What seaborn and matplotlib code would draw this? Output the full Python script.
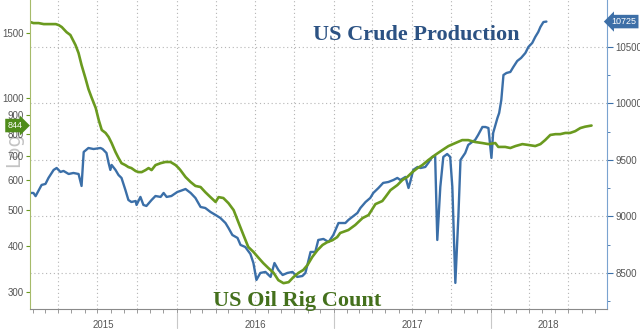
import matplotlib
matplotlib.use("Agg")
import matplotlib.pyplot as plt
import matplotlib.ticker as mticker
import matplotlib.dates as mdates
import matplotlib.transforms as mtrans
import seaborn as sns
import pandas as pd

# ---------------- data ----------------
prod_dates = ["2015-01-26","2015-02-02","2015-02-07","2015-02-21","2015-03-02","2015-03-09","2015-03-21","2015-03-28","2015-04-06","2015-04-13",
              "2015-04-25","2015-05-06","2015-05-18","2015-05-25","2015-05-30","2015-06-10","2015-06-22","2015-07-08","2015-07-13","2015-07-22",
              "2015-07-27","2015-07-31","2015-08-03","2015-08-12","2015-08-19","2015-08-26","2015-09-04","2015-09-11","2015-09-18","2015-09-28",
              "2015-09-30","2015-10-09","2015-10-16","2015-10-23","2015-11-04","2015-11-13","2015-11-25","2015-12-02","2015-12-09","2015-12-20",
              "2016-01-03","2016-01-10","2016-01-22","2016-02-03","2016-02-14","2016-02-26","2016-03-08","2016-03-20","2016-04-01","2016-04-12",
              "2016-04-24","2016-05-01","2016-05-10","2016-05-22","2016-05-29","2016-06-09","2016-06-21","2016-06-28","2016-07-05","2016-07-14",
              "2016-07-26","2016-08-07","2016-08-16","2016-08-25","2016-09-04","2016-09-15","2016-09-27","2016-10-08","2016-10-20","2016-10-27",
              "2016-11-08","2016-11-19","2016-11-26","2016-12-08","2016-12-20","2016-12-31","2017-01-12","2017-01-21","2017-01-28","2017-02-04",
              "2017-02-16","2017-02-25","2017-03-04","2017-03-16","2017-03-27","2017-04-03","2017-04-15","2017-04-26","2017-05-08","2017-05-20",
              "2017-05-29","2017-06-05","2017-06-17","2017-06-24","2017-06-28","2017-07-05","2017-07-15","2017-07-22","2017-08-02","2017-08-09",
              "2017-08-18","2017-08-25","2017-08-30","2017-09-06","2017-09-13","2017-09-22","2017-09-29","2017-10-04","2017-10-11","2017-10-18",
              "2017-10-23","2017-11-03","2017-11-10","2017-11-19","2017-11-26","2017-12-03","2017-12-13","2017-12-20","2017-12-27","2018-01-03",
              "2018-01-07","2018-01-17","2018-01-21","2018-01-26","2018-01-31","2018-02-07","2018-02-16","2018-02-23","2018-03-04","2018-03-13",
              "2018-03-23","2018-03-30","2018-04-08","2018-04-15","2018-04-22","2018-04-27","2018-05-04","2018-05-11"]
prod_values = [9208,9208,9180,9279,9288,9341,9412,9429,9394,9403,
               9376,9385,9376,9270,9571,9606,9597,9606,9597,9562,
               9473,9412,9456,9412,9367,9341,9235,9146,9128,9137,
               9102,9173,9102,9093,9146,9181,9173,9208,9173,9181,
               9217,9226,9243,9208,9164,9084,9075,9040,9013,8987,
               8942,8898,8836,8810,8748,8730,8668,8588,8438,8500,
               8509,8465,8588,8527,8482,8500,8509,8465,8473,8500,
               8686,8686,8792,8801,8774,8836,8942,8942,8942,8969,
               9004,9031,9075,9128,9164,9208,9252,9297,9305,9323,
               9341,9323,9350,9252,9305,9412,9438,9429,9438,9474,
               9527,9535,8792,9261,9527,9553,9527,9261,8412,8996,
               9500,9562,9633,9659,9677,9721,9792,9792,9783,9518,
               9739,9872,9916,10031,10252,10270,10279,10323,10376,10403,
               10447,10500,10536,10589,10633,10677,10721,10725]

rig_dates = ["2015-01-26","2015-02-02","2015-02-14","2015-02-26","2015-03-09","2015-03-26","2015-04-02","2015-04-09","2015-04-20","2015-04-29",
             "2015-05-11","2015-05-18","2015-05-25","2015-06-03","2015-06-10","2015-06-17","2015-06-27","2015-07-04","2015-07-11","2015-07-20",
             "2015-07-27","2015-08-03","2015-08-12","2015-08-19","2015-08-26","2015-09-04","2015-09-11","2015-09-18","2015-09-28","2015-10-05",
             "2015-10-12","2015-10-21","2015-10-28","2015-11-04","2015-11-13","2015-11-25","2015-12-06","2015-12-18","2015-12-30","2016-01-06",
             "2016-01-10","2016-01-22","2016-02-03","2016-02-14","2016-02-26","2016-03-08","2016-03-20","2016-04-01","2016-04-08","2016-04-19",
             "2016-05-01","2016-05-13","2016-05-24","2016-06-05","2016-06-16","2016-06-28","2016-07-10","2016-07-21","2016-08-02","2016-08-14",
             "2016-08-25","2016-09-06","2016-09-18","2016-09-29","2016-10-11","2016-10-22","2016-11-01","2016-11-12","2016-11-24","2016-12-06",
             "2016-12-17","2016-12-29","2017-01-09","2017-01-16","2017-02-04","2017-02-20","2017-03-09","2017-03-23","2017-04-08","2017-04-24",
             "2017-05-01","2017-05-13","2017-05-29","2017-06-10","2017-06-21","2017-07-03","2017-07-15","2017-07-26","2017-08-09","2017-08-25",
             "2017-09-11","2017-09-25","2017-10-11","2017-10-27","2017-11-10","2017-11-26","2017-12-13","2017-12-27","2018-01-12","2018-01-19",
             "2018-02-04","2018-02-16","2018-02-28","2018-03-16","2018-03-30","2018-04-15","2018-04-27","2018-05-08","2018-05-20","2018-06-01",
             "2018-06-12","2018-06-24","2018-07-05","2018-07-17","2018-07-29","2018-08-09","2018-08-24"]
rig_values = [1605,1595,1595,1585,1585,1585,1575,1556,1508,1481,
              1391,1324,1229,1133,1059,1007,941,873,821,806,
              786,757,716,690,668,660,652,648,636,632,
              632,640,648,640,660,668,673,673,660,648,
              640,613,594,580,576,558,541,525,541,538,
              521,499,463,427,397,385,371,359,348,338,
              323,317,319,329,338,344,355,373,389,402,
              409,414,422,433,441,455,475,484,518,528,
              541,565,583,602,613,632,648,660,681,703,
              725,743,757,771,771,762,757,752,757,739,
              739,734,743,752,748,743,752,771,796,800,
              800,806,806,815,831,838,844]

left_ticks = [300, 400, 500, 600, 700, 800, 900, 1000, 1500]
right_ticks = [8500, 9000, 9500, 10000, 10500]
years = [2015, 2016, 2017, 2018]
x_range = ["2015-01-25", "2018-09-29"]
title_prod = "US Crude Production"
title_rig = "US Oil Rig Count"
watermark = "Log"

# ---------------- style ----------------
BLUE = "#3b6fa8"
GREEN = "#6a9a1f"
GRID = "#b5b5b5"
LABEL = "#555555"

sns.set_theme(style="white")
plt.rcParams['font.family'] = ['Liberation Sans', 'DejaVu Sans']

prod_df = pd.DataFrame({"date": pd.to_datetime(prod_dates), "value": prod_values})
rig_df = pd.DataFrame({"date": pd.to_datetime(rig_dates), "value": rig_values})

fig = plt.figure(figsize=(6.4, 3.35), dpi=100)
ax = fig.add_axes([30/640, 26/335, 577/640, 309/335])
ax2 = ax.twinx()
ax.set_zorder(3)
ax.patch.set_visible(False)
ax2.set_zorder(2)

sns.lineplot(data=prod_df, x="date", y="value", ax=ax2, color=BLUE, linewidth=1.7)
sns.lineplot(data=rig_df, x="date", y="value", ax=ax, color=GREEN, linewidth=1.9)

# x axis
x0, x1 = pd.Timestamp(x_range[0]), pd.Timestamp(x_range[1])
ax.set_xlim(x0, x1)
ax.xaxis.set_major_locator(mdates.MonthLocator(bymonth=[1, 4, 7, 10]))
ax.xaxis.set_minor_locator(mdates.MonthLocator())
ax.xaxis.set_major_formatter(mticker.NullFormatter())
ax.tick_params(axis="x", which="both", bottom=True, length=3, width=0.6, color="#8a8a8a")
ax.set_xlabel("")
ax.set_ylabel("")
ax2.set_xlabel("")
ax2.set_ylabel("")

# left (log) axis: rig count
ax.set_yscale("log")
ax.set_ylim(270, 1841)
ax.yaxis.set_major_locator(mticker.FixedLocator(left_ticks))
ax.yaxis.set_major_formatter(mticker.FixedFormatter([str(t) for t in left_ticks]))
ax.yaxis.set_minor_locator(mticker.NullLocator())
ax.tick_params(axis="y", which="major", left=True, length=3, width=0.8, color=GREEN,
               labelsize=7, labelcolor=LABEL, pad=1.5)

# right axis: production
ax2.set_ylim(8181, 10916)
ax2.yaxis.set_major_locator(mticker.FixedLocator(right_ticks))
ax2.yaxis.set_minor_locator(mticker.MultipleLocator(250))
ax2.tick_params(axis="y", which="major", right=True, length=4, width=0.8, color=BLUE,
                labelsize=7, labelcolor=LABEL, pad=2)
ax2.tick_params(axis="y", which="minor", right=True, length=2, width=0.6, color=BLUE)

# grid (drawn on the lower axes)
ax2.xaxis.set_visible(True)
ax2.tick_params(axis="x", which="both", bottom=False, top=False, labelbottom=False, labeltop=False)
ax2.grid(True, which="major", axis="both", color=GRID, linestyle=(0, (1, 2.5)), linewidth=0.8)
ax.grid(False)

# spines
for s in ["top", "right"]:
    ax.spines[s].set_visible(False)
ax.spines["left"].set_color("#a6bb6a")
ax.spines["left"].set_linewidth(0.8)
ax.spines["bottom"].set_color("#8a8a8a")
ax.spines["bottom"].set_linewidth(0.8)
for s in ["top", "left", "bottom"]:
    ax2.spines[s].set_visible(False)
ax2.spines["right"].set_color("#7aa3d0")
ax2.spines["right"].set_linewidth(0.8)

# year labels and separators
btrans = mtrans.blended_transform_factory(ax.transData, ax.transAxes)
for y in years:
    start = max(pd.Timestamp(year=y, month=1, day=1), x0)
    end = min(pd.Timestamp(year=y + 1, month=1, day=1), x1)
    mid = start + (end - start) / 2
    ax.text(mid, -0.052, str(y), transform=btrans, ha="center", va="center",
            fontsize=7, color=LABEL, clip_on=False)
    if pd.Timestamp(year=y, month=1, day=1) > x0:
        ax.plot([pd.Timestamp(year=y, month=1, day=1)] * 2, [-0.013, -0.062], transform=btrans,
                color="#c8c8c8", linewidth=0.8, clip_on=False)

# last value tags
ltrans = mtrans.blended_transform_factory(ax.transAxes, ax.transData)
ax.text(-0.026, rig_values[-1], str(rig_values[-1]), transform=ltrans, ha="center", va="center",
        fontsize=6.5, color="white", clip_on=False, zorder=10,
        bbox=dict(boxstyle="rarrow,pad=0.25", fc="#4f8c1a", ec="none"))
rtrans = mtrans.blended_transform_factory(ax2.transAxes, ax2.transData)
ax2.text(1.029, prod_values[-1], str(prod_values[-1]), transform=rtrans, ha="center", va="center",
         fontsize=6.5, color="white", clip_on=False, zorder=10,
         bbox=dict(boxstyle="larrow,pad=0.25", fc="#3d6fa7", ec="none"))

# watermark
fig.text(14/640, 1 - 150/335, watermark, rotation=90, fontsize=14, color="#c4c4c4",
         ha="center", va="center", family="DejaVu Sans", zorder=0)

# titles
fig.text(416/640, 1 - 40/335, title_prod, ha="center", va="baseline", fontsize=16,
         fontweight="bold", family="Liberation Serif", color="#2c5283", zorder=20)
fig.text(297/640, 1 - 306/335, title_rig, ha="center", va="baseline", fontsize=16,
         fontweight="bold", family="Liberation Serif", color="#44701c", zorder=20)

fig.savefig("out.png", dpi=100, facecolor="white")
